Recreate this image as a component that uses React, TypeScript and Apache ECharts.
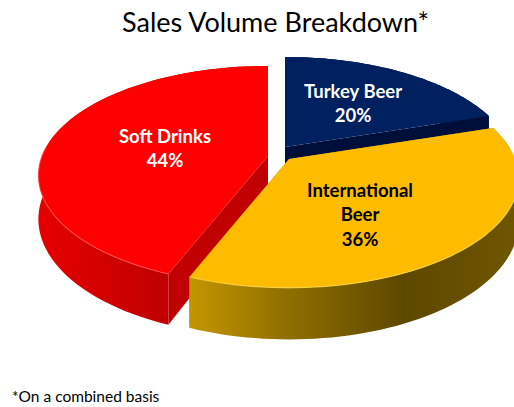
import React, { useEffect, useRef } from "react";
import * as echarts from "echarts";

const categories = ["Turkey Beer", "International\nBeer", "Soft Drinks"];
const shares = [20, 36, 44];

const FONT = "Lato, Carlito, sans-serif";
const PERSPECTIVE = 0.177;
const RADIUS_X = 226;
const RADIUS_Y = 106;
const DEPTH = 42.5;
const ARC_STEPS = 72;

// Per-slice placement and paint; z orders the slices from back to front.
const sliceLook = [
  {
    cx: 285, cy: 147, z: 1, labelX: 353, labelY: 103, labelColor: "#ffffff",
    top: "#002060", face: "#000f3a", rim: "#4a6098",
    wall: [[0, "#000f3a"], [1, "#000f3a"]],
  },
  {
    cx: 289, cy: 159, z: 3, labelX: 360, labelY: 214, labelColor: "#000000",
    top: "#fdbc00", face: "#a87f00", rim: "#ffe04d",
    wall: [[0, "#c39600"], [0.3, "#8f6e00"], [0.65, "#5e4800"], [1, "#705600"]],
  },
  {
    cx: 268, cy: 156, z: 2, labelX: 165, labelY: 148, labelColor: "#ffffff",
    top: "#ff0000", face: "#c00000", rim: "#ff5a5a",
    wall: [[0, "#e60000"], [0.6, "#bc0000"], [1, "#c40000"]],
  },
];

const total = shares.reduce((a, b) => a + b, 0);
const startAngles = shares.map((_, i) =>
  (shares.slice(0, i).reduce((a, b) => a + b, 0) / total) * Math.PI * 2
);

// Tilted disc with a mild perspective: the near edge is drawn larger than the far edge.
function project(cx: number, cy: number, angle: number, radial: number, drop: number) {
  const u = Math.sin(angle) * radial;
  const v = -Math.cos(angle) * radial;
  const s = 1 / (1 - PERSPECTIVE * v);
  return [cx + RADIUS_X * u * s, cy + (RADIUS_Y * v + drop) * s];
}

function renderSlice(params: any, api: any) {
  const i = params.dataIndex;
  const look = sliceLook[i];
  const from = startAngles[i];
  const to = from + (api.value(0) / total) * Math.PI * 2;
  const topArc: number[][] = [];
  const lowArc: number[][] = [];
  for (let k = 0; k <= ARC_STEPS; k++) {
    const a = from + ((to - from) * k) / ARC_STEPS;
    topArc.push(project(look.cx, look.cy, a, 1, 0));
    lowArc.push(project(look.cx, look.cy, a, 1, DEPTH));
  }
  const apexTop = project(look.cx, look.cy, 0, 0, 0);
  const apexLow = project(look.cx, look.cy, 0, 0, DEPTH);
  const endTop = topArc[topArc.length - 1];
  const endLow = lowArc[lowArc.length - 1];
  const startTop = topArc[0];
  const startLow = lowArc[0];
  const base = look.z * 10;
  const wallFill = new echarts.graphic.LinearGradient(
    0, 0, 1, 0,
    look.wall.map(([offset, color]) => ({ offset, color })) as any
  );
  const wallSpan = [...topArc, ...[...lowArc].reverse()];
  // The rim highlight follows only the part of the arc that faces the viewer.
  const nearRim = topArc.filter((_, k) => {
    const a = from + ((to - from) * k) / ARC_STEPS;
    return Math.cos(a) < 0.1;
  });
  return {
    type: "group",
    children: [
      {
        type: "polygon", z2: base,
        shape: { points: [startTop, apexTop, apexLow, startLow] },
        style: { fill: look.face },
      },
      {
        type: "polygon", z2: base + 1,
        shape: { points: [endTop, apexTop, apexLow, endLow] },
        style: { fill: look.face },
      },
      {
        type: "polygon", z2: base + 2,
        shape: { points: wallSpan },
        style: { fill: wallFill },
      },
      {
        type: "polygon", z2: base + 3,
        shape: { points: [apexTop, ...topArc] },
        style: { fill: look.top },
      },
      {
        type: "polyline", z2: base + 4,
        shape: { points: nearRim },
        style: { fill: "none", stroke: look.rim, lineWidth: 1.2, opacity: 0.6 },
      },
      {
        type: "text", z2: 100,
        style: {
          text: `${categories[i]}\n${api.value(0)}%`,
          x: look.labelX, y: look.labelY,
          fill: look.labelColor,
          font: `bold 18.5px ${FONT}`,
          lineHeight: 24.5,
          align: "center",
          verticalAlign: "middle",
        },
      },
    ],
  };
}

export default function App() {
  const ref = useRef<HTMLDivElement>(null);
  useEffect(() => {
    document.body.style.margin = "0";
    const chart = echarts.init(ref.current!, undefined, { renderer: "svg" });
    chart.setOption({
      animation: false,
      backgroundColor: "#ffffff",
      title: [
        {
          text: "Sales Volume Breakdown*",
          left: 122, top: 8,
          textStyle: { fontFamily: FONT, fontSize: 27, fontWeight: "normal", color: "#000000" },
          padding: 0,
        },
        {
          text: "*On a combined basis",
          left: 12, top: 388,
          textStyle: { fontFamily: FONT, fontSize: 15.5, fontWeight: "normal", color: "#000000" },
          padding: 0,
        },
      ],
      series: [
        {
          type: "custom",
          coordinateSystem: "none",
          renderItem: renderSlice,
          data: shares.map((v) => [v]),
          silent: true,
          clip: false,
        },
      ],
    });
    return () => chart.dispose();
  }, []);
  return <div ref={ref} style={{ width: 514, height: 407 }} />;
}
